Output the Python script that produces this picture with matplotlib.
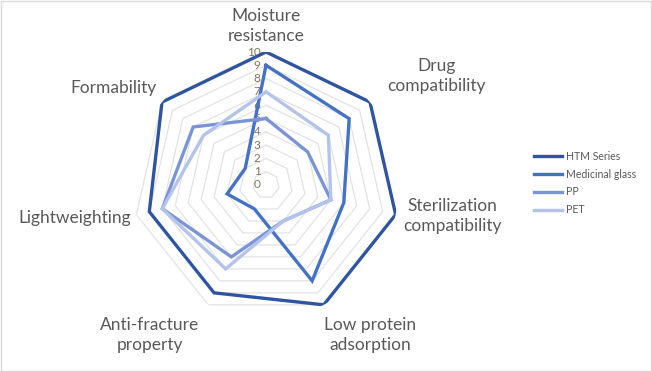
import numpy as np
import matplotlib
matplotlib.use("Agg")
import matplotlib.pyplot as plt
from matplotlib.patches import Rectangle

plt.rcParams['font.family'] = ['Lato', 'DejaVu Sans']

categories = ['Moisture\nresistance', 'Drug\ncompatibility', 'Sterilization\ncompatibility',
              'Low protein\nadsorption', 'Anti-fracture\nproperty', 'Lightweighting', 'Formability']
series_names = ['HTM Series', 'Medicinal glass', 'PP', 'PET']
htm = [10, 10, 10, 10, 9, 9, 10]
glass = [9, 8, 6, 8, 2, 3, 2]
pp = [5, 4, 5, 3, 6, 8, 7]
pet = [7, 6, 5, 3, 7, 8, 6]
ticks = list(range(0, 11))

colors = ['#2f55a0', '#4472c4', '#7b94d6', '#b4c3ea']

W, H = 652, 371
fig = plt.figure(figsize=(W / 100, H / 100), dpi=100)
fig.patches.append(Rectangle((0.5 / W, 0.5 / H), 1 - 1.5 / W, 1 - 1.5 / H, transform=fig.transFigure,
                             fill=False, edgecolor='#d9d9d9', linewidth=1))

# polar axes centred at (266, 185) px, radius 133 px
cx, cy, R = 266, 185, 133
ax = fig.add_axes([(cx - R) / W, 1 - (cy + R) / H, 2 * R / W, 2 * R / H], projection='polar')
ax.set_theta_zero_location('N')
ax.set_theta_direction(-1)
ax.set_ylim(0, 10)
ax.grid(False)
ax.spines['polar'].set_visible(False)
ax.set_xticks([])
ax.set_yticks([])
ax.patch.set_alpha(0)

n = len(categories)
theta = np.linspace(0, 2 * np.pi, n, endpoint=False)
theta_closed = np.append(theta, theta[0])

# heptagon gridlines
for r in ticks[1:]:
    ax.plot(theta_closed, [r] * (n + 1), color='#e3e3e3', lw=0.9, zorder=1)

for vals, name, c in zip([htm, glass, pp, pet], series_names, colors):
    ax.plot(theta_closed, vals + vals[:1], color=c, lw=2.4, label=name, zorder=3,
            solid_joinstyle='miter')

# value labels along the top axis
for t in ticks:
    ax.annotate(str(t), xy=(0, t), xytext=(-4, 0), textcoords='offset points',
                ha='right', va='center', fontsize=8.5, color='#86725a', zorder=2)

# category labels
label_pos = [(266, 26), (437, 76), (452, 216), (370, 335), (150, 335), (75, 218), (113, 88)]
for lab, (px, py) in zip(categories, label_pos):
    fig.text(px / W, 1 - py / H, lab, ha='center', va='center', fontsize=12.5,
             color='#595959', linespacing=1.25)

leg = fig.legend(loc='center left', bbox_to_anchor=(524 / W, 1 - 183 / H), frameon=False,
                 fontsize=7.6, handlelength=2.7, handletextpad=0.4, labelspacing=0.65,
                 labelcolor='#595959')

fig.savefig('out.png', dpi=100)
